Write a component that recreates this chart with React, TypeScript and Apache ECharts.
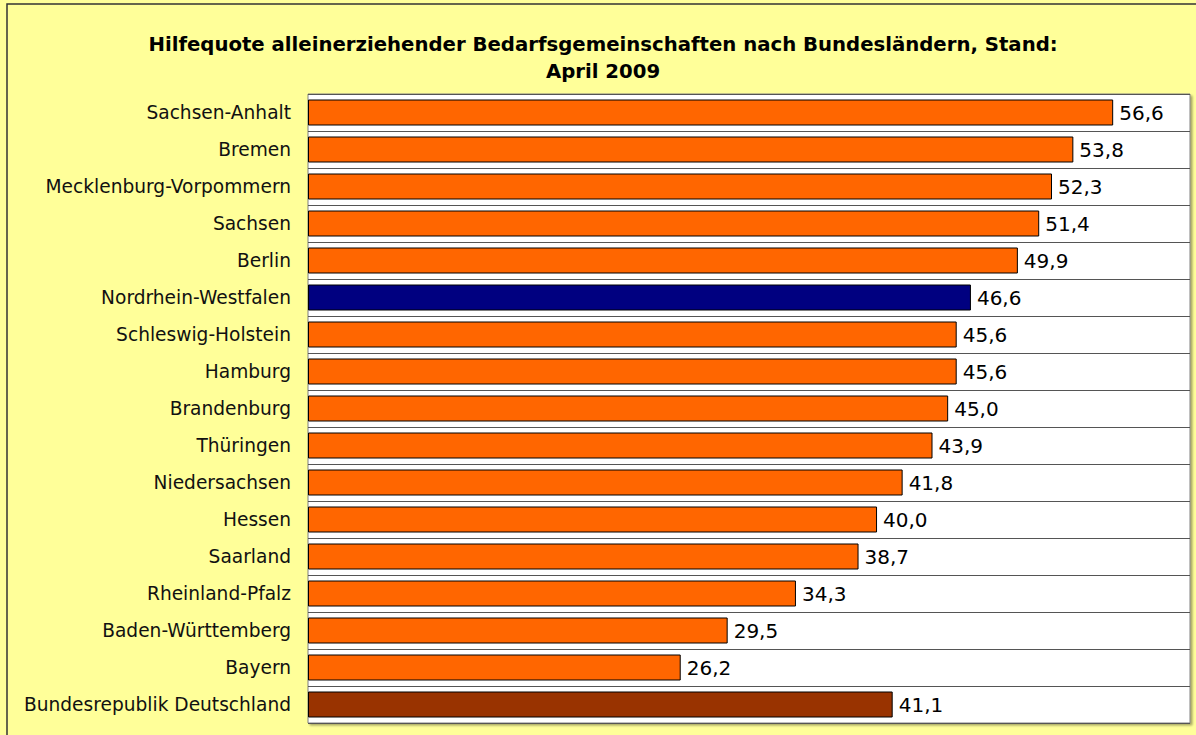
import React, { useEffect, useRef } from "react";
import * as echarts from "echarts";

const categories = [
  "Sachsen-Anhalt",
  "Bremen",
  "Mecklenburg-Vorpommern",
  "Sachsen",
  "Berlin",
  "Nordrhein-Westfalen",
  "Schleswig-Holstein",
  "Hamburg",
  "Brandenburg",
  "Thüringen",
  "Niedersachsen",
  "Hessen",
  "Saarland",
  "Rheinland-Pfalz",
  "Baden-Württemberg",
  "Bayern",
  "Bundesrepublik Deutschland",
];

const values = [56.6, 53.8, 52.3, 51.4, 49.9, 46.6, 45.6, 45.6, 45.0, 43.9, 41.8, 40.0, 38.7, 34.3, 29.5, 26.2, 41.1];

const highlightNRW = "Nordrhein-Westfalen";
const highlightDE = "Bundesrepublik Deutschland";

const titleText = "Hilfequote alleinerziehender Bedarfsgemeinschaften nach Bundesländern, Stand:\nApril 2009";

export default function App() {
  const ref = useRef<HTMLDivElement>(null);
  useEffect(() => {
    if (!ref.current) return;
    const chart = echarts.init(ref.current, null, { renderer: "svg" });
    const font = "'DejaVu Sans', sans-serif";
    const data = values.map((v, i) => {
      const c = categories[i];
      const color = c === highlightNRW ? "#000080" : c === highlightDE ? "#993300" : "#FF6600";
      return { value: v, itemStyle: { color } };
    });
    chart.setOption({
      animation: false,
      backgroundColor: "#FFFF99",
      textStyle: { fontFamily: font },
      title: {
        text: titleText,
        left: 598,
        textAlign: "center",
        top: 26,
        textStyle: { fontSize: 19.7, fontWeight: "bold", color: "#000", lineHeight: 27, fontFamily: font },
      },
      graphic: [
        {
          type: "rect",
          shape: { x: 7, y: 4, width: 1200, height: 740 },
          style: { fill: "none", stroke: "#333", lineWidth: 1.5 },
          silent: true,
        },
      ],
      grid: {
        left: 308,
        top: 94,
        width: 882,
        height: 629,
        show: true,
        backgroundColor: "#FFFFFF",
        borderColor: "#808080",
        borderWidth: 1,
        shadowColor: "rgba(0,0,0,0.35)",
        shadowBlur: 2,
        shadowOffsetX: 2,
        shadowOffsetY: 2,
      },
      xAxis: {
        type: "value",
        min: 0,
        max: 62,
        show: false,
        splitLine: { show: false },
      },
      yAxis: {
        type: "category",
        inverse: true,
        data: categories,
        axisLine: { show: false },
        axisTick: { show: false },
        axisLabel: { fontSize: 18.6, color: "#111", margin: 17, fontFamily: font },
        splitLine: { show: true, lineStyle: { color: "#555", width: 1 } },
      },
      series: [
        {
          type: "bar",
          data,
          barWidth: 26,
          itemStyle: { borderColor: "#000", borderWidth: 1 },
          label: {
            show: true,
            position: "right",
            distance: 6,
            fontSize: 20,
            color: "#000",
            fontFamily: font,
            formatter: (p: any) => Number(p.value).toFixed(1).replace(".", ","),
          },
        },
      ],
    });
    return () => chart.dispose();
  }, []);
  return <div ref={ref} style={{ position: "absolute", left: 0, top: 0, width: 1196, height: 735 }} />;
}
